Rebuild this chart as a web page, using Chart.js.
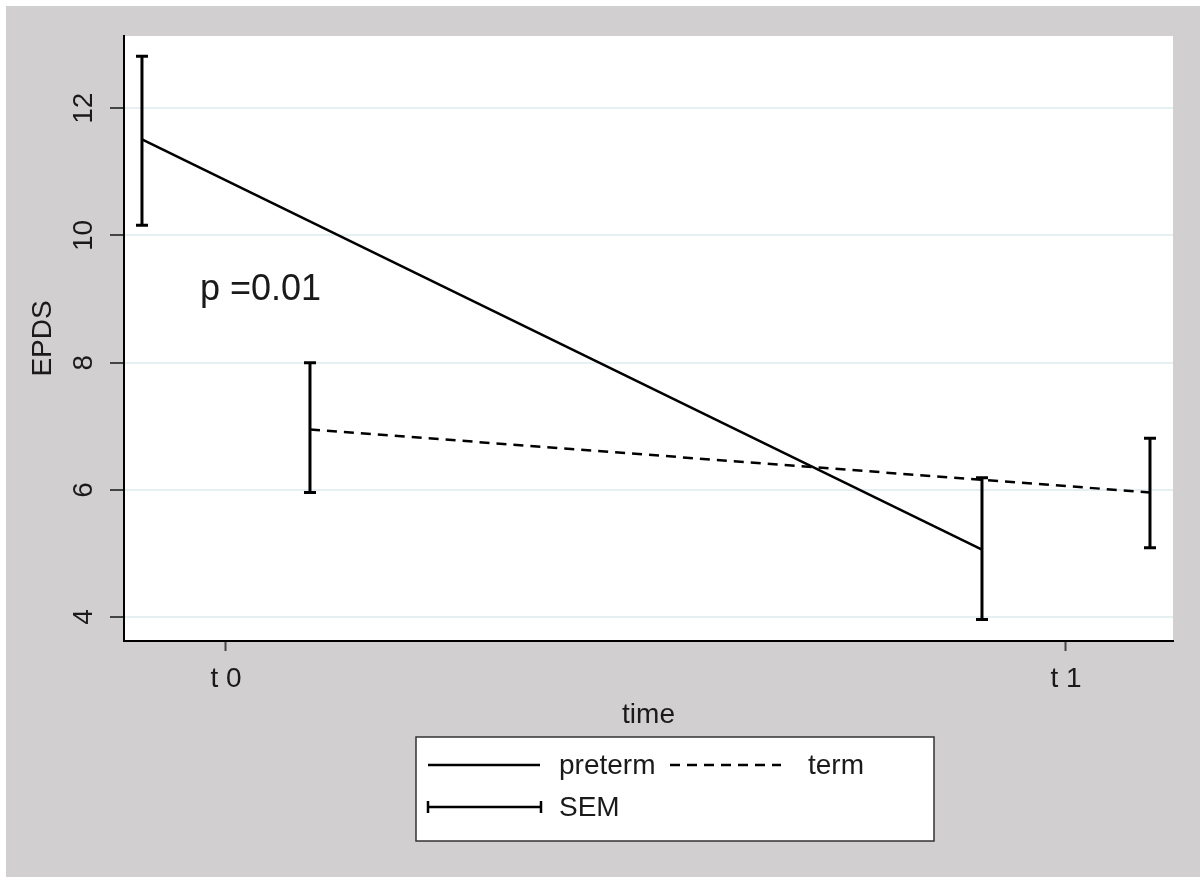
<!DOCTYPE html>
<html>
<head>
<meta charset="utf-8">
<script src="https://cdn.jsdelivr.net/npm/chart.js@4"></script>
<style>
  body { margin: 0; background: #fff; }
  #wrap { width: 1200px; height: 877px; }
</style>
</head>
<body>
<div id="wrap"><canvas id="epdsChart" width="1200" height="877"></canvas></div>
<script>
  // data
  const categories = ['t 0', 't 1'];
  const yTicks = [4, 6, 8, 10, 12];
  const pretermX = [-0.1, 0.9];
  const pretermMean = [11.51, 5.06];
  const pretermLo = [10.16, 3.96];
  const pretermHi = [12.82, 6.19];
  const termX = [0.1, 1.1];
  const termMean = [6.95, 5.96];
  const termLo = [5.96, 5.09];
  const termHi = [8.0, 6.81];
  const pLabel = 'p =0.01';

  const FONT = 'Liberation Sans, Arial, sans-serif';
  const INK = '#1a1a1a';

  const stataPlugin = {
    id: 'stata',
    beforeDraw(chart) {
      const c = chart.ctx, a = chart.chartArea;
      c.save();
      c.fillStyle = '#ffffff';
      c.fillRect(0, 0, chart.width, chart.height);
      c.fillStyle = '#d1cfcf';
      c.fillRect(6, 6, chart.width - 6, chart.height - 6);
      c.fillStyle = '#ffffff';
      c.fillRect(a.left, a.top, a.right - a.left, a.bottom - a.top);
      c.restore();
    },
    afterDatasetsDraw(chart) {
      const c = chart.ctx;
      const xs = chart.scales.x, ys = chart.scales.y;
      c.save();
      c.strokeStyle = '#000';
      c.lineWidth = 3;
      const bar = (x, lo, hi) => {
        const px = xs.getPixelForValue(x);
        const pl = ys.getPixelForValue(lo), ph = ys.getPixelForValue(hi);
        c.beginPath();
        c.moveTo(px, pl); c.lineTo(px, ph);
        c.moveTo(px - 6, pl); c.lineTo(px + 6, pl);
        c.moveTo(px - 6, ph); c.lineTo(px + 6, ph);
        c.stroke();
      };
      pretermX.forEach((x, i) => bar(x, pretermLo[i], pretermHi[i]));
      termX.forEach((x, i) => bar(x, termLo[i], termHi[i]));

      // annotation
      c.fillStyle = INK;
      c.font = '36px ' + FONT;
      c.textAlign = 'left';
      c.textBaseline = 'middle';
      c.fillText(pLabel, xs.getPixelForValue(-0.031), ys.getPixelForValue(9.14));
      c.restore();
    },
    afterDraw(chart) {
      const c = chart.ctx, ys = chart.scales.y;
      c.save();
      // rotated y tick labels
      c.fillStyle = INK;
      c.font = '28px ' + FONT;
      c.textAlign = 'center';
      c.textBaseline = 'middle';
      yTicks.forEach(v => {
        c.save();
        c.translate(84, ys.getPixelForValue(v));
        c.rotate(-Math.PI / 2);
        c.fillText(String(v), 0, 0);
        c.restore();
      });

      // legend box
      c.fillStyle = '#fff';
      c.fillRect(416, 737, 518, 104);
      c.strokeStyle = '#333';
      c.lineWidth = 1.5;
      c.strokeRect(416, 737, 518, 104);

      c.strokeStyle = '#000';
      c.lineWidth = 2.5;
      c.beginPath(); c.moveTo(428, 765); c.lineTo(540, 765); c.stroke();
      c.setLineDash([10, 7]);
      c.beginPath(); c.moveTo(670, 765); c.lineTo(781, 765); c.stroke();
      c.setLineDash([]);
      c.lineWidth = 2.5;
      c.beginPath();
      c.moveTo(428, 807); c.lineTo(541, 807);
      c.moveTo(428, 801); c.lineTo(428, 813);
      c.moveTo(541, 801); c.lineTo(541, 813);
      c.stroke();

      c.fillStyle = INK;
      c.font = '28px ' + FONT;
      c.textAlign = 'left';
      c.fillText('preterm', 559, 766);
      c.fillText('term', 808, 766);
      c.fillText('SEM', 559, 808);
      c.restore();
    }
  };

  const ctx = document.getElementById('epdsChart').getContext('2d');

  new Chart(ctx, {
    type: 'line',
    data: {
      datasets: [{
        label: 'preterm',
        data: pretermX.map((x, i) => ({ x: x, y: pretermMean[i] })),
        borderColor: '#000',
        borderWidth: 2.5,
        pointRadius: 0,
        fill: false
      }, {
        label: 'term',
        data: termX.map((x, i) => ({ x: x, y: termMean[i] })),
        borderColor: '#000',
        borderWidth: 2.5,
        borderDash: [10, 7],
        pointRadius: 0,
        fill: false
      }]
    },
    options: {
      responsive: false,
      animation: false,
      layout: { padding: { top: 36, right: 27, left: 0, bottom: 136 } },
      plugins: {
        legend: { display: false },
        tooltip: { enabled: false }
      },
      scales: {
        x: {
          type: 'linear',
          min: -0.1214,
          max: 1.1274,
          afterBuildTicks: s => { s.ticks = categories.map((c, i) => ({ value: i })); },
          afterFit: s => { s.height = 100; },
          ticks: {
            callback: (v) => categories[v],
            color: INK,
            font: { family: FONT, size: 28 },
            padding: 11,
            maxRotation: 0
          },
          grid: { drawOnChartArea: false, tickLength: 10, tickColor: '#444', tickWidth: 2 },
          border: { color: '#000', width: 2 },
          title: {
            display: true,
            text: 'time',
            color: INK,
            font: { family: FONT, size: 28 },
            padding: { top: 0, bottom: 9 }
          }
        },
        y: {
          min: 3.623,
          max: 13.137,
          afterBuildTicks: s => { s.ticks = yTicks.map(v => ({ value: v })); },
          afterFit: s => { s.width = 124; },
          ticks: { display: false },
          grid: { color: '#e6eff1', lineWidth: 2, tickLength: 14, tickColor: '#444', tickWidth: 2 },
          border: { color: '#000', width: 2 },
          title: {
            display: true,
            text: 'EPDS',
            color: INK,
            font: { family: FONT, size: 28 },
            padding: { top: 26, bottom: 0 }
          }
        }
      }
    },
    plugins: [stataPlugin]
  });
</script>
</body>
</html>
